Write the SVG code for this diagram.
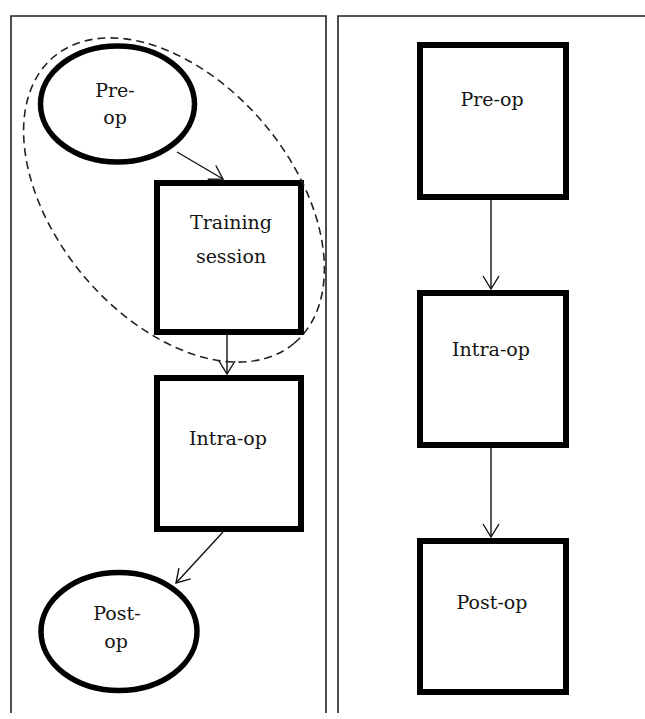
<svg xmlns="http://www.w3.org/2000/svg" width="645" height="719" viewBox="0 0 645 719">
  <defs>
    <style>
      .panel { fill: none; stroke: #222; stroke-width: 1.6; }
      .node { fill: #fff; stroke: #000; stroke-width: 6; }
      .oval { fill: #fff; stroke: #000; stroke-width: 5.5; }
      .group { fill: none; stroke: #222; stroke-width: 1.6; stroke-dasharray: 8 5; }
      .edge { fill: none; stroke: #111; stroke-width: 1.4; marker-end: url(#vee); }
      .label { font-family: "DejaVu Serif", "Liberation Serif", serif; font-size: 19px; fill: #151515; text-anchor: middle; }
    </style>
    <marker id="vee" markerUnits="userSpaceOnUse" markerWidth="22" markerHeight="22" refX="0" refY="0" viewBox="-15 -11 17 22" orient="auto">
      <path d="M-13,-8 L0,0 L-13,8" fill="none" stroke="#111" stroke-width="1.4"/>
    </marker>
  </defs>
  <rect width="645" height="719" fill="#fff"/>

  <!-- panel frames -->
  <g id="panels">
    <path class="panel" d="M11,713 V16 H326 V713"/>
    <path class="panel" d="M338,713 V16 H650"/>
  </g>

  <!-- left flow -->
  <g id="left-preop">
    <ellipse class="oval" cx="117.5" cy="104" rx="77" ry="58"/>
    <text class="label" x="115" y="97">Pre-</text>
    <text class="label" x="115" y="124">op</text>
  </g>
  <g id="left-training">
    <rect class="node" x="157" y="183" width="144" height="149"/>
    <text class="label" x="231" y="229">Training</text>
    <text class="label" x="231" y="263">session</text>
  </g>
  <g id="left-intraop">
    <rect class="node" x="157" y="378" width="144" height="151"/>
    <text class="label" x="228" y="445">Intra-op</text>
  </g>
  <g id="left-postop">
    <ellipse class="oval" cx="119" cy="631.5" rx="78" ry="59"/>
    <text class="label" x="117" y="620">Post-</text>
    <text class="label" x="116" y="648">op</text>
  </g>

  <!-- grouping outline round pre-op and training -->
  <g id="training-group">
    <ellipse class="group" cx="174" cy="200" rx="187" ry="118" transform="rotate(50 174 200)"/>
  </g>

  <!-- right flow -->
  <g id="right-preop">
    <rect class="node" x="420" y="45" width="146" height="152"/>
    <text class="label" x="492" y="106">Pre-op</text>
  </g>
  <g id="right-intraop">
    <rect class="node" x="420" y="293" width="146" height="152"/>
    <text class="label" x="491" y="356">Intra-op</text>
  </g>
  <g id="right-postop">
    <rect class="node" x="420" y="541" width="146" height="151"/>
    <text class="label" x="492" y="609">Post-op</text>
  </g>

  <!-- connectors -->
  <g id="connectors">
    <line class="edge" x1="177" y1="152" x2="223" y2="179"/>
    <line class="edge" x1="227" y1="335" x2="227" y2="374"/>
    <line class="edge" x1="223" y1="532" x2="176" y2="583"/>
    <line class="edge" x1="491" y1="200" x2="491" y2="289"/>
    <line class="edge" x1="491" y1="448" x2="491" y2="537"/>
  </g>
</svg>
